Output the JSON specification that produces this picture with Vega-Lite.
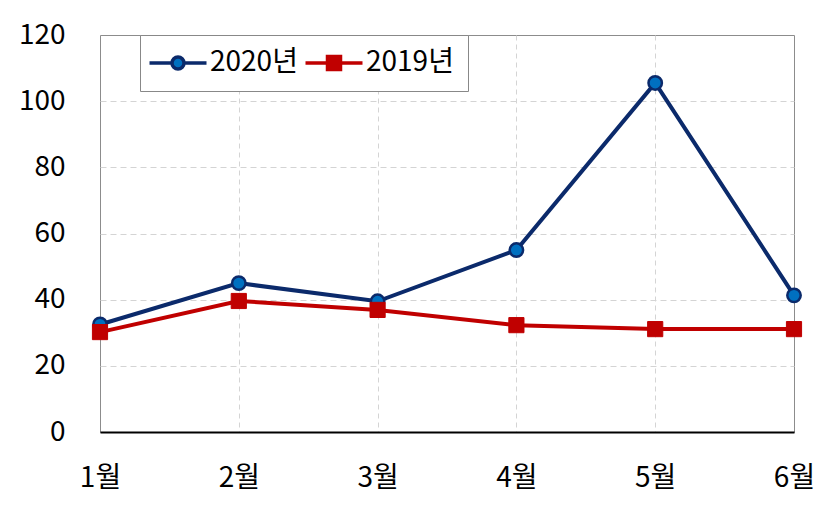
{
  "$schema": "https://vega.github.io/schema/vega-lite/v6.json",
  "width": 694,
  "height": 397,
  "autosize": "none",
  "padding": {"left": 100, "top": 35, "right": 32, "bottom": 90},
  "background": "white",
  "data": {
    "values": [
      {"month": "1월", "series": "2020년", "value": 32.5},
      {"month": "2월", "series": "2020년", "value": 45},
      {"month": "3월", "series": "2020년", "value": 39.5},
      {"month": "4월", "series": "2020년", "value": 55},
      {"month": "5월", "series": "2020년", "value": 105.5},
      {"month": "6월", "series": "2020년", "value": 41.3},
      {"month": "1월", "series": "2019년", "value": 30.2},
      {"month": "2월", "series": "2019년", "value": 39.6},
      {"month": "3월", "series": "2019년", "value": 36.9},
      {"month": "4월", "series": "2019년", "value": 32.3},
      {"month": "5월", "series": "2019년", "value": 31.1},
      {"month": "6월", "series": "2019년", "value": 31.1}
    ]
  },
  "encoding": {
    "x": {
      "field": "month",
      "type": "ordinal",
      "sort": ["1월", "2월", "3월", "4월", "5월", "6월"],
      "scale": {"type": "point", "padding": 0},
      "axis": {
        "title": null,
        "labelAngle": 0,
        "labelPadding": 32,
        "ticks": false,
        "domain": true,
        "domainColor": "black",
        "domainWidth": 2,
        "grid": true,
        "gridColor": "#d4d4d4",
        "gridDash": [5, 4],
        "gridOpacity": {"condition": {"test": "datum.value === '1월' || datum.value === '6월'", "value": 0}, "value": 1}
      }
    },
    "y": {
      "field": "value",
      "type": "quantitative",
      "scale": {"domain": [0, 120], "nice": false, "zero": true},
      "axis": {
        "title": null,
        "values": [0, 20, 40, 60, 80, 100, 120],
        "labelPadding": 35,
        "ticks": false,
        "domain": false,
        "grid": true,
        "gridColor": "#d4d4d4",
        "gridDash": [6, 4],
        "gridOpacity": {"condition": {"test": "datum.value === 0 || datum.value === 120", "value": 0}, "value": 1}
      }
    }
  },
  "layer": [
    {
      "mark": {"type": "line", "strokeWidth": 4},
      "encoding": {
        "stroke": {
          "field": "series",
          "type": "nominal",
          "scale": {"domain": ["2020년", "2019년"], "range": ["#0b2a6b", "#c00000"]},
          "legend": {
            "orient": "none",
            "legendX": 40,
            "legendY": 0,
            "direction": "horizontal",
            "title": null,
            "strokeColor": "#888888",
            "fillColor": "white",
            "padding": 14,
            "symbolSize": 400,
            "symbolOffset": 10,
            "labelOffset": 18,
            "columnPadding": 0,
            "labelFontSize": 28,
            "labelColor": "black",
            "labelFont": "Liberation Sans Narrow, Noto Sans CJK KR, sans-serif",
            "encode": {
              "symbols": {
                "update": {
                  "shape": {"signal": "datum.value === '2020년' ? 'M-2.85,0H-0.6M0.6,0H2.85M0.6,0A0.6,0.6,0,1,1,-0.6,0A0.6,0.6,0,1,1,0.6,0Z' : 'M-2.85,0H-0.65M0.65,0H2.85M-0.65,-0.65H0.65V0.65H-0.65Z'"},
                  "stroke": {"signal": "datum.value === '2020년' ? '#0b2a6b' : '#c00000'"},
                  "fill": {"signal": "datum.value === '2020년' ? '#0070c0' : '#c00000'"},
                  "strokeWidth": {"value": 3.5},
                  "opacity": {"value": 1},
                  "fillOpacity": {"value": 1},
                  "strokeOpacity": {"value": 1}
                }
              }
            }
          }
        }
      }
    },
    {
      "transform": [{"filter": "datum.series === '2020년'"}],
      "mark": {"type": "point", "shape": "circle", "filled": true, "size": 180, "fill": "#0070c0", "stroke": "#0b2a6b", "strokeWidth": 2.5, "opacity": 1}
    },
    {
      "transform": [{"filter": "datum.series === '2019년'"}],
      "mark": {"type": "point", "shape": "square", "filled": true, "size": 230, "fill": "#c00000", "stroke": "#c00000", "strokeWidth": 1, "opacity": 1}
    }
  ],
  "config": {
    "view": {"stroke": "#8c8c8c", "strokeWidth": 1},
    "axis": {
      "labelFont": "Liberation Sans Narrow, Noto Sans CJK KR, sans-serif",
      "labelFontSize": 28,
      "labelColor": "black"
    }
  }
}
